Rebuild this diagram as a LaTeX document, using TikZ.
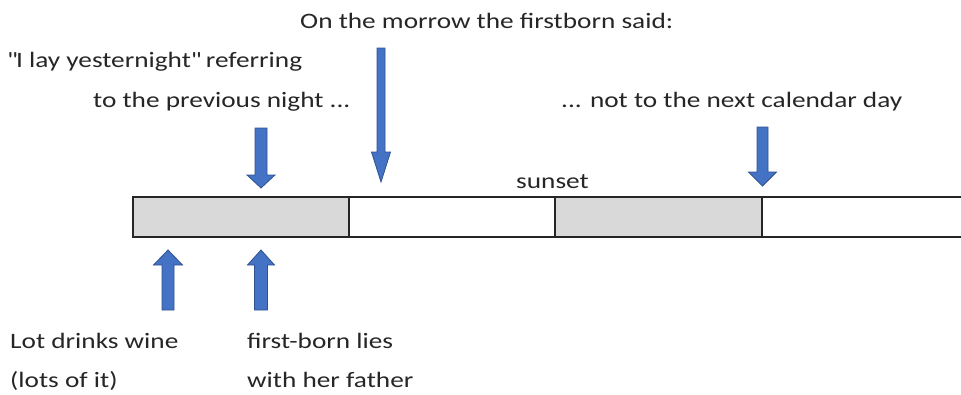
\documentclass[tikz,border=0pt]{standalone}
\usepackage{fontspec}
\setmainfont{Carlito}[FakeStretch=1.24]
\begin{document}
\begin{tikzpicture}[x=1pt,y=-1pt,
  txt/.style={anchor=base west,inner sep=0pt,font=\fontsize{22}{26}\selectfont,text=black!85},
  seg/.style={draw=black!85,line width=1.6pt,outer sep=0pt,inner sep=0pt,minimum height=40pt,anchor=north west},
  grayseg/.style={seg,fill=black!15},
  blk/.style={fill={rgb,255:red,68;green,114;blue,196},draw={rgb,255:red,47;green,82;blue,143},line width=0.8pt,line join=miter}
]
\useasboundingbox (0,0) rectangle (961,394);
% bar
\node[grayseg,minimum width=216pt] (s1) at (133,197) {};
\node[seg,fill=white,minimum width=206pt] (s2) at (s1.north east) {};
\node[grayseg,minimum width=207pt] (s3) at (s2.north east) {};
\coordinate (rt) at (962,197);
\coordinate (rb) at (962,237);
\draw[draw=black!85,line width=1.6pt] (s3.north east) -- (rt);
\draw[draw=black!85,line width=1.6pt] (s3.south east) -- (rb);
% texts
\node[txt] (t1) at (300,28) {On the morrow the firstborn said:};
\node[txt] (t2) at (7,67) {\textquotedbl I lay yesternight\textquotedbl{} referring};
\node[txt] (t3) at (93,107) {to the previous night ...};
\node[txt] (t4) at (561,107) {... not to the next calendar day};
\node[txt] (t5) at (516,188) {sunset};
\node[txt] (t6) at (10,348) {Lot drinks wine};
\node[txt] (t7) at (10,387) {(lots of it)};
\node[txt] (t8) at (247,348) {first-born lies};
\node[txt] (t9) at (247,387) {with her father};
% block arrows
\newcommand{\blockarrowshape}[6]{% x, tail, headbase, tip, halfshaft, halfhead
  \draw[blk] (#1-#5,#2) -- (#1+#5,#2) -- (#1+#5,#3) -- (#1+#6,#3) -- (#1,#4) -- (#1-#6,#3) -- (#1-#5,#3) -- cycle;}
\blockarrowshape{261}{128}{175}{188}{6}{14}
\blockarrowshape{381}{48}{152}{182}{4}{9.5}
\blockarrowshape{762.5}{127}{172}{186}{5.5}{14}
\blockarrowshape{168}{310}{265}{250}{6}{14.5}
\blockarrowshape{261}{310}{265}{250}{6.5}{13.5}
\end{tikzpicture}
\end{document}
